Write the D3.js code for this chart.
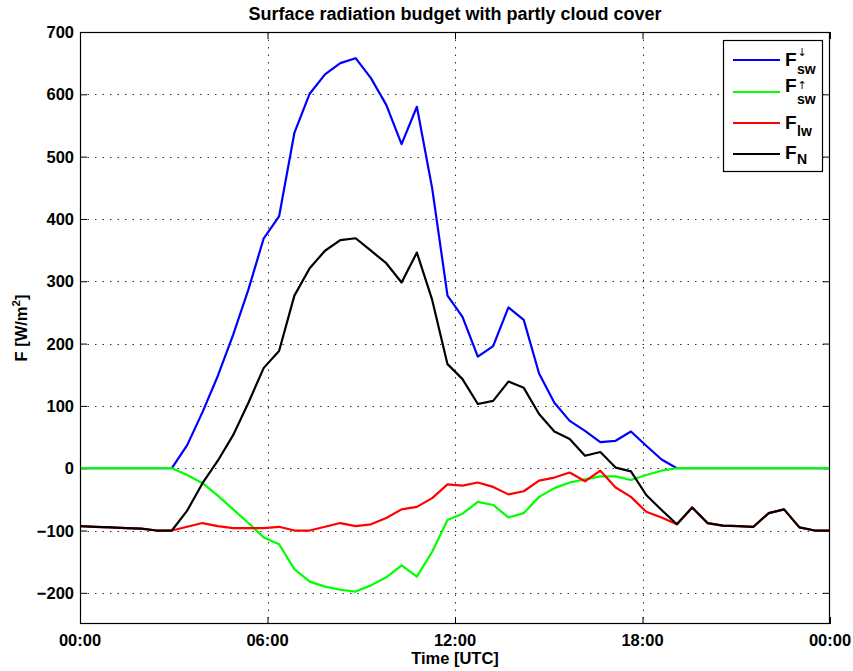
<!DOCTYPE html>
<html>
<head>
<meta charset="utf-8">
<script src="https://cdn.jsdelivr.net/npm/d3@7/dist/d3.min.js"></script>
<style>
  html, body { margin: 0; padding: 0; background: #fff; }
  svg { display: block; font-family: "Liberation Sans", Arial, Helvetica, sans-serif; font-weight: bold; }
</style>
</head>
<body>
<svg id="chart" width="853" height="671"></svg>
<script>
// Sample times in hours UTC (50 samples over the day)
const hours = [0, 0.49, 0.98, 1.47, 1.96, 2.45, 2.94, 3.43, 3.92, 4.41,
  4.90, 5.39, 5.88, 6.37, 6.86, 7.35, 7.84, 8.33, 8.82, 9.31,
  9.80, 10.29, 10.78, 11.27, 11.76, 12.24, 12.73, 13.22, 13.71, 14.20,
  14.69, 15.18, 15.67, 16.16, 16.65, 17.14, 17.63, 18.12, 18.61, 19.10,
  19.59, 20.08, 20.57, 21.06, 21.55, 22.04, 22.53, 23.02, 23.51, 24.00];

// Downwelling shortwave flux [W/m2]
const swDown = [0, 0, 0, 0, 0, 0, 0, 37, 90, 148,
  214, 287, 369, 404, 538, 601, 632, 650, 658, 626,
  583, 520, 580, 449, 277, 243, 179, 196, 258, 238,
  152, 105, 76, 60, 42, 44, 59, 36, 14, 0,
  0, 0, 0, 0, 0, 0, 0, 0, 0, 0];

// Upwelling (reflected) shortwave flux [W/m2]
const swUp = [0, 0, 0, 0, 0, 0, 0, -11, -24, -44,
  -66, -88, -111, -122, -162, -182, -190, -195, -198, -188,
  -175, -156, -174, -134, -83, -73, -54, -59, -79, -72,
  -46, -32, -23, -18, -13, -13, -19, -11, -4, 0,
  0, 0, 0, 0, 0, 0, 0, 0, 0, 0];

// Net longwave flux [W/m2]
const lw = [-93, -94, -95, -96, -97, -100, -100, -94, -88, -93,
  -96, -96, -96, -94, -100, -100, -94, -88, -93, -90,
  -80, -66, -62, -48, -26, -28, -23, -30, -42, -37,
  -20, -15, -7, -21, -4, -31, -46, -70, -79, -90,
  -63, -88, -92, -93, -94, -72, -66, -95, -100, -100];

// Net radiation [W/m2]
const net = [-93, -94, -95, -96, -97, -100, -100, -68, -24, 12,
  53, 105, 161, 188, 277, 321, 349, 366, 369, 349,
  329, 298, 346, 270, 167, 143, 103, 108, 139, 129,
  87, 59, 47, 20, 26, 1, -5, -43, -67, -90,
  -63, -88, -92, -93, -94, -72, -66, -95, -100, -100];

const xTicks = [0, 6, 12, 18, 24];
const xTickLabels = ["00:00", "06:00", "12:00", "18:00", "00:00"];
const yTicks = [-200, -100, 0, 100, 200, 300, 400, 500, 600, 700];

const titleText = "Surface radiation budget with partly cloud cover";
const xLabelText = "Time [UTC]";

const series = [
  { name: "swDown", values: swDown, color: "#0000ff", sub: "sw", sup: "\u2193" },
  { name: "swUp",   values: swUp,   color: "#00ff00", sub: "sw", sup: "\u2191" },
  { name: "lw",     values: lw,     color: "#ff0000", sub: "lw", sup: null },
  { name: "net",    values: net,    color: "#000000", sub: "N",  sup: null }
];

const svg = d3.select("#chart");
const plot = { left: 80, right: 830, top: 32, bottom: 624 };

const x = d3.scaleLinear().domain([0, 24]).range([plot.left, plot.right]);
const y = d3.scaleLinear().domain([-250, 700]).range([plot.bottom, plot.top]);

// Dotted grid
const grid = svg.append("g").attr("class", "grid")
  .attr("stroke", "#333").attr("stroke-width", 1).attr("stroke-dasharray", "1.5,6");
grid.selectAll("line.gx").data(xTicks.slice(1, -1)).join("line")
  .attr("x1", d => Math.round(x(d)) + 0.5).attr("x2", d => Math.round(x(d)) + 0.5)
  .attr("y1", plot.top).attr("y2", plot.bottom);
grid.selectAll("line.gy").data(yTicks.filter(d => d < 700)).join("line")
  .attr("y1", d => Math.round(y(d)) + 0.5).attr("y2", d => Math.round(y(d)) + 0.5)
  .attr("x1", plot.left).attr("x2", plot.right);

// Axes: ticks point inward on all four sides
const tickLen = 7;
const axLeft = d3.axisRight(y).tickValues(yTicks).tickSize(tickLen).tickFormat("");
const axRight = d3.axisLeft(y).tickValues(yTicks).tickSize(tickLen).tickFormat("");
const axBottom = d3.axisTop(x).tickValues(xTicks).tickSize(tickLen).tickFormat("");
const axTop = d3.axisBottom(x).tickValues(xTicks).tickSize(tickLen).tickFormat("");

function styleAxis(g) {
  g.select(".domain").remove();
  g.selectAll(".tick line").attr("stroke", "#000");
}
svg.append("g").attr("transform", `translate(${plot.left},0)`).call(axLeft).call(styleAxis);
svg.append("g").attr("transform", `translate(${plot.right},0)`).call(axRight).call(styleAxis);
svg.append("g").attr("transform", `translate(0,${plot.bottom})`).call(axBottom).call(styleAxis);
svg.append("g").attr("transform", `translate(0,${plot.top})`).call(axTop).call(styleAxis);

// Tick labels
const fmt = d3.format("d");
svg.append("g").selectAll("text").data(yTicks).join("text")
  .attr("x", plot.left - 6).attr("y", d => y(d) + 6)
  .attr("text-anchor", "end").attr("font-size", 16.5)
  .text(d => fmt(d));
svg.append("g").selectAll("text").data(xTicks).join("text")
  .attr("x", d => x(d)).attr("y", plot.bottom + 22)
  .attr("text-anchor", "middle").attr("font-size", 16.5)
  .text((d, i) => xTickLabels[i]);

// Series lines
const line = d3.line().x((d, i) => x(hours[i])).y(d => y(d));
svg.append("clipPath").attr("id", "plotClip").append("rect")
  .attr("x", plot.left).attr("y", plot.top)
  .attr("width", plot.right - plot.left).attr("height", plot.bottom - plot.top);
svg.append("g").attr("clip-path", "url(#plotClip)")
  .selectAll("path").data(series).join("path")
  .attr("d", d => line(d.values))
  .attr("fill", "none").attr("stroke", d => d.color)
  .attr("stroke-width", 2.2).attr("stroke-linejoin", "round");

// Plot box
svg.append("rect")
  .attr("x", plot.left + 0.5).attr("y", plot.top + 0.5)
  .attr("width", plot.right - plot.left - 1).attr("height", plot.bottom - plot.top - 1)
  .attr("fill", "none").attr("stroke", "#000").attr("stroke-width", 1.2);

// Title and axis labels
svg.append("text").attr("x", (plot.left + plot.right) / 2).attr("y", 19.5)
  .attr("text-anchor", "middle").attr("font-size", 18).text(titleText);
svg.append("text").attr("x", (plot.left + plot.right) / 2).attr("y", 664)
  .attr("text-anchor", "middle").attr("font-size", 16.5).text(xLabelText);
const yl = svg.append("text")
  .attr("transform", `translate(27,${(plot.top + plot.bottom) / 2}) rotate(-90)`)
  .attr("text-anchor", "middle").attr("font-size", 16.5);
yl.append("tspan").text("F [W/m");
yl.append("tspan").attr("font-size", 11.5).attr("dy", -7).text("2");
yl.append("tspan").attr("dy", 7).text("]");

// Legend
const legend = svg.append("g").attr("class", "legend");
legend.append("rect").attr("x", 723.5).attr("y", 40.5).attr("width", 99).attr("height", 131)
  .attr("fill", "#fff").attr("stroke", "#000").attr("stroke-width", 1.2);
const rowY = [60, 92, 123, 154];
const fBase = [66, 92, 129, 159];
const subBase = [74, 104, 136, 164];
const supBase = [56, 89, 0, 0];
series.forEach((s, i) => {
  legend.append("line").attr("x1", 733).attr("x2", 780)
    .attr("y1", rowY[i]).attr("y2", rowY[i])
    .attr("stroke", s.color).attr("stroke-width", 2.2);
  legend.append("text").attr("x", 785).attr("y", fBase[i]).attr("font-size", 19).text("F");
  legend.append("text").attr("x", 797).attr("y", subBase[i]).attr("font-size", 14).text(s.sub);
  if (s.sup) {
    legend.append("text").attr("x", 797.5).attr("y", supBase[i])
      .attr("font-size", 11).attr("font-weight", "normal")
      .attr("font-family", "DejaVu Sans, sans-serif").text(s.sup);
  }
});
</script>
</body>
</html>
